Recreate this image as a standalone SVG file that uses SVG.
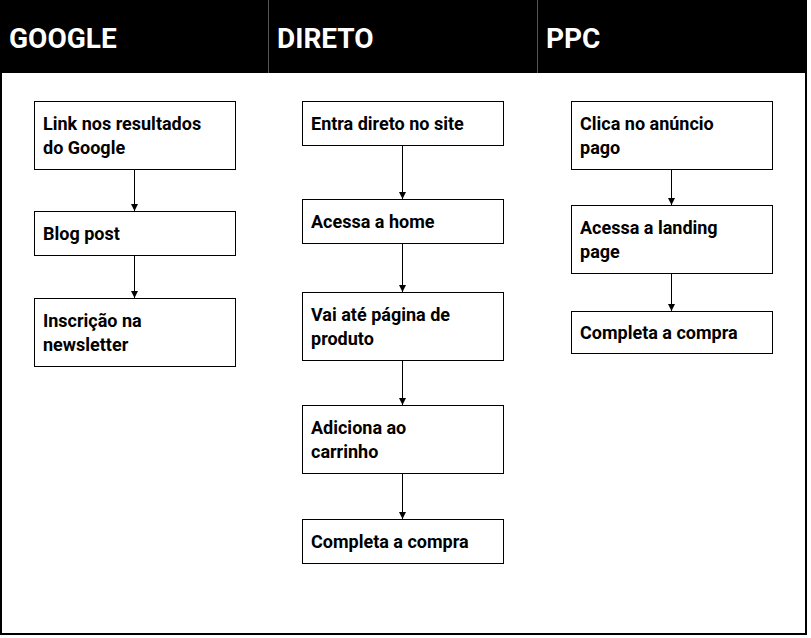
<svg xmlns="http://www.w3.org/2000/svg" width="811" height="638" viewBox="0 0 811 638">
<style>
.h{font-family:Roboto,"Liberation Sans",sans-serif;font-weight:bold;font-size:28px;fill:#fff}
.b{fill:#fff;stroke:#000;stroke-width:1}
.t{font-family:Roboto,"Liberation Sans",sans-serif;font-weight:bold;font-size:18px;fill:#000}
.c{stroke:#000;stroke-width:1;fill:none;marker-end:url(#a)}
</style>
<defs><marker id="a" viewBox="0 0 10 10" refX="10" refY="5" markerWidth="7" markerHeight="7" orient="auto" markerUnits="userSpaceOnUse"><path d="M0,0L10,5L0,10z" fill="#000"/></marker></defs>
<rect x="0" y="0" width="811" height="638" fill="#fff"/>
<rect x="1" y="1" width="805" height="633" fill="#fff" stroke="#000" stroke-width="2"/>
<rect x="0" y="0" width="807" height="73" fill="#000"/>
<line x1="268.5" y1="0" x2="268.5" y2="73" stroke="#555"/>
<line x1="537.5" y1="0" x2="537.5" y2="73" stroke="#555"/>
<text class="h" x="9" y="48">GOOGLE</text>
<text class="h" x="277" y="48">DIRETO</text>
<text class="h" x="546" y="48">PPC</text>
<g id="connectors">
<line class="c" x1="134.5" y1="169" x2="134.5" y2="211"/>
<line class="c" x1="134.5" y1="255" x2="134.5" y2="298"/>
<line class="c" x1="402.5" y1="145" x2="402.5" y2="199"/>
<line class="c" x1="402.5" y1="243" x2="402.5" y2="292"/>
<line class="c" x1="402.5" y1="360" x2="402.5" y2="405"/>
<line class="c" x1="402.5" y1="473" x2="402.5" y2="519"/>
<line class="c" x1="671.5" y1="169" x2="671.5" y2="205"/>
<line class="c" x1="671.5" y1="273" x2="671.5" y2="311"/>
</g>
<g id="g1"><rect class="b" x="34.5" y="101.5" width="201" height="68"/><text class="t" x="43" y="130">Link nos resultados</text><text class="t" x="43" y="154">do Google</text></g>
<g id="g2"><rect class="b" x="34.5" y="211.5" width="201" height="44"/><text class="t" x="43" y="240">Blog post</text></g>
<g id="g3"><rect class="b" x="34.5" y="298.5" width="201" height="68"/><text class="t" x="43" y="327">Inscrição na</text><text class="t" x="43" y="351">newsletter</text></g>
<g id="d1"><rect class="b" x="302.5" y="101.5" width="201" height="44"/><text class="t" x="311" y="130">Entra direto no site</text></g>
<g id="d2"><rect class="b" x="302.5" y="199.5" width="201" height="44"/><text class="t" x="311" y="228">Acessa a home</text></g>
<g id="d3"><rect class="b" x="302.5" y="292.5" width="201" height="68"/><text class="t" x="311" y="321">Vai até página de</text><text class="t" x="311" y="345">produto</text></g>
<g id="d4"><rect class="b" x="302.5" y="405.5" width="201" height="68"/><text class="t" x="311" y="434">Adiciona ao</text><text class="t" x="311" y="458">carrinho</text></g>
<g id="d5"><rect class="b" x="302.5" y="519.5" width="201" height="44"/><text class="t" x="311" y="548">Completa a compra</text></g>
<g id="p1"><rect class="b" x="571.5" y="101.5" width="201" height="68"/><text class="t" x="580" y="130">Clica no anúncio</text><text class="t" x="580" y="154">pago</text></g>
<g id="p2"><rect class="b" x="571.5" y="205.5" width="201" height="68"/><text class="t" x="580" y="234">Acessa a landing</text><text class="t" x="580" y="258">page</text></g>
<g id="p3"><rect class="b" x="571.5" y="311.5" width="201" height="42"/><text class="t" x="580" y="339">Completa a compra</text></g>
</svg>
